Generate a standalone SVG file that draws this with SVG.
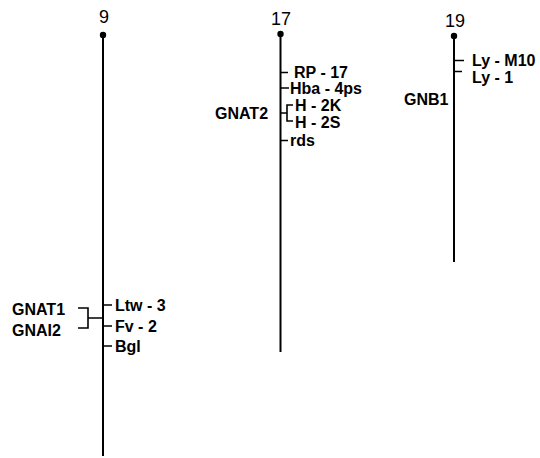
<svg xmlns="http://www.w3.org/2000/svg" width="540" height="458" viewBox="0 0 540 458">
  <style>
    .chr { stroke: #000; stroke-width: 2; fill: none; }
    .tick { stroke: #000; stroke-width: 1.6; fill: none; }
    .num { font-family: "Liberation Sans", Arial, sans-serif; font-size: 18px; fill: #000; text-anchor: middle; }
    .lbl { font-family: "Liberation Sans", Arial, sans-serif; font-size: 16px; font-weight: bold; fill: #000; }
  </style>
  <rect width="540" height="458" fill="#fff"/>

  <!-- chromosome 9 -->
  <g id="chr9">
    <text class="num" x="104" y="23">9</text>
    <circle cx="103" cy="35" r="3.2"/>
    <line class="chr" x1="103" y1="35" x2="103" y2="456"/>
  </g>
  <!-- chromosome 17 -->
  <g id="chr17">
    <text class="num" x="281" y="25">17</text>
    <circle cx="280.5" cy="34" r="3.2"/>
    <line class="chr" x1="280.5" y1="34" x2="280.5" y2="352"/>
  </g>
  <!-- chromosome 19 -->
  <g id="chr19">
    <text class="num" x="455" y="27">19</text>
    <circle cx="454" cy="36" r="3.2"/>
    <line class="chr" x1="454" y1="36" x2="454" y2="262"/>
  </g>

  <!-- loci on chromosome 9 -->
  <g id="ltw3"><text class="lbl" x="115" y="310.5">Ltw - 3</text></g>
  <g id="fv2"><text class="lbl" x="115" y="331.5">Fv - 2</text></g>
  <g id="bgl"><text class="lbl" x="115" y="351.5">Bgl</text></g>
  <g id="gnat1"><text class="lbl" x="12" y="315">GNAT1</text></g>
  <g id="gnai2"><text class="lbl" x="12" y="335.5">GNAI2</text></g>

  <!-- loci on chromosome 17 -->
  <g id="rp17"><text class="lbl" x="294" y="78">RP - 17</text></g>
  <g id="hba4ps"><text class="lbl" x="290" y="94">Hba - 4ps</text></g>
  <g id="h2k"><text class="lbl" x="295" y="111">H - 2K</text></g>
  <g id="h2s"><text class="lbl" x="295" y="128">H - 2S</text></g>
  <g id="rds"><text class="lbl" x="290" y="146">rds</text></g>
  <g id="gnat2"><text class="lbl" x="215" y="118.5">GNAT2</text></g>

  <!-- loci on chromosome 19 -->
  <g id="lym10"><text class="lbl" x="472" y="66">Ly - M10</text></g>
  <g id="ly1"><text class="lbl" x="472" y="83">Ly - 1</text></g>
  <g id="gnb1"><text class="lbl" x="404" y="104.5">GNB1</text></g>

  <!-- tick marks and brackets -->
  <g id="connectors">
    <path class="tick" d="M103 305H112 M103 326H112 M103 346H112"/>
    <path class="tick" d="M78 308H88V328H78 M88 318H103"/>
    <path class="tick" d="M280.5 72.5H288 M280.5 88H289 M280.5 140.5H288"/>
    <path class="tick" d="M280.5 113H287 M293 105H287V121H293"/>
    <path class="tick" d="M454 60.5H464 M454 71.5H462"/>
  </g>
</svg>
